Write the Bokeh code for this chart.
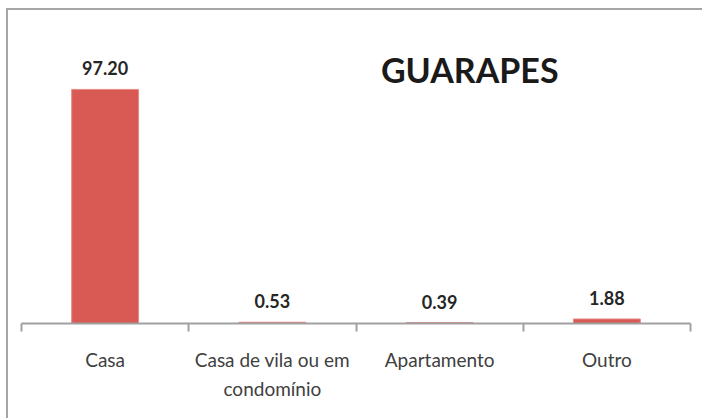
from bokeh.plotting import figure
from bokeh.models import ColumnDataSource, LabelSet, FixedTicker, Range1d, Label
from bokeh.core.properties import value
from bokeh.embed import file_html
from bokeh.resources import INLINE

categories = ["Casa", "Casa de vila ou em\ncondomínio", "Apartamento", "Outro"]
values = [97.20, 0.53, 0.39, 1.88]
value_labels = ["97.20", "0.53", "0.39", "1.88"]
title_text = "GUARAPES"

centers = [i + 0.5 for i in range(len(categories))]
src = ColumnDataSource(dict(x=centers, top=values, lab=value_labels))

p = figure(width=696, height=410, output_backend="svg", toolbar_location=None,
           x_range=Range1d(0, 4), y_range=Range1d(0, 120),
           min_border_left=13, min_border_right=14, min_border_top=24, min_border_bottom=97)
p.styles = {"border-left": "2px solid #A6A6A6", "border-top": "2px solid #A6A6A6",
            "margin-left": "6px", "margin-top": "8px"}
p.outline_line_color = None
p.background_fill_color = "white"
p.border_fill_color = "white"
p.xgrid.visible = False
p.ygrid.visible = False
p.yaxis.visible = False

p.vbar(x="x", top="top", width=0.4, bottom=0, source=src,
       fill_color="#D95A55", line_color="#E98A86", line_width=1)

ax = p.xaxis[0]
ax.ticker = FixedTicker(ticks=centers, minor_ticks=[0, 1, 2, 3, 4])
ax.major_label_overrides = {c: t for c, t in zip(centers, categories)}
ax.axis_line_color = "#A0A0A0"
ax.axis_line_width = 2
ax.major_tick_line_color = None
ax.major_tick_out = 0
ax.major_tick_in = 0
ax.minor_tick_line_color = "#A0A0A0"
ax.minor_tick_line_width = 2
ax.minor_tick_out = 8
ax.minor_tick_in = 0
ax.major_label_standoff = 16
ax.major_label_text_font = "Lato"
ax.major_label_text_font_size = "19px"
ax.major_label_text_line_height = 1.3
ax.major_label_text_color = "#404040"

labels = LabelSet(x="x", y="top", text="lab", source=src, y_offset=21,
                  text_align="center", text_baseline="middle",
                  text_font=value("Lato"), text_font_style="bold",
                  text_font_size="18px", text_color="#262626")
p.add_layout(labels)

title = Label(x=2.68, y=120, text=title_text, x_units="data", y_units="data",
              y_offset=-35, text_align="center", text_baseline="middle",
              text_font="Lato", text_font_style="bold", text_font_size="34px",
              text_color="#1A1A1A")
p.add_layout(title)

open("out.html", "w").write(file_html(p, INLINE))
